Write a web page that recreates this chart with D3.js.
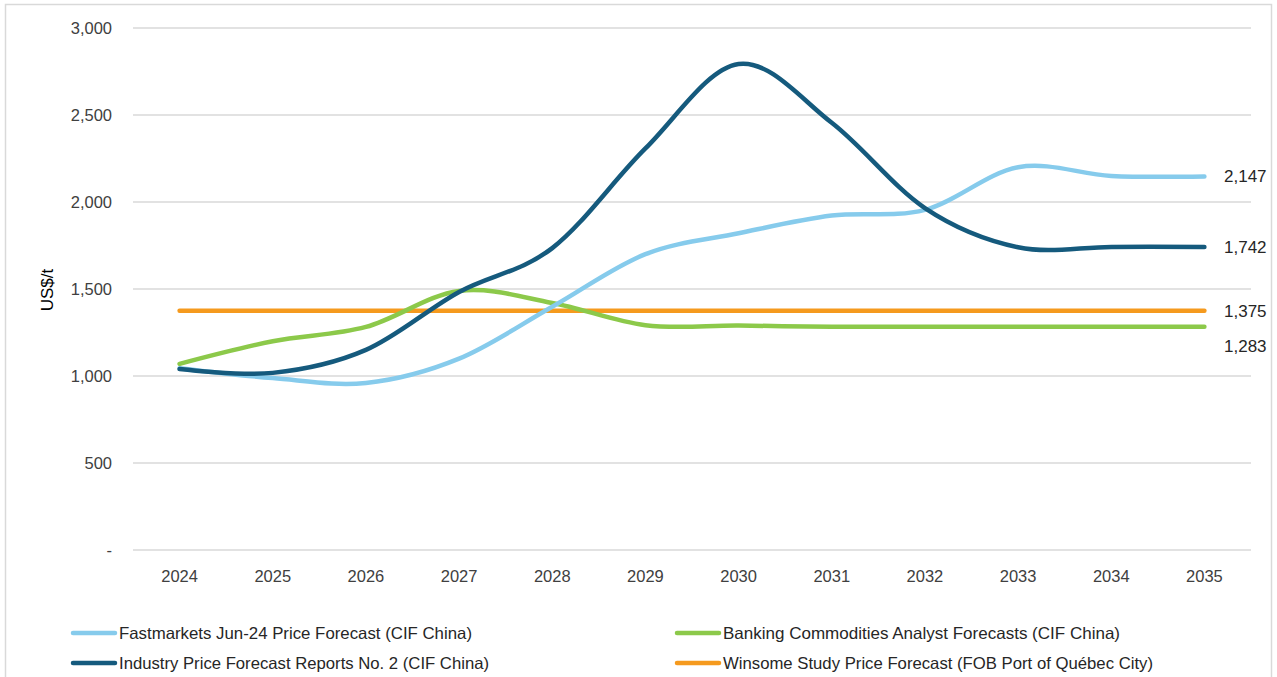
<!DOCTYPE html>
<html><head><meta charset="utf-8">
<script src="https://cdn.jsdelivr.net/npm/d3@7"></script>
<style>body{margin:0;background:#fff;} svg{display:block;font-family:"Liberation Sans",Arial,sans-serif;}</style>
</head><body><svg id="c" width="1277" height="677"></svg>
<script>
const years = ["2024","2025","2026","2027","2028","2029","2030","2031","2032","2033","2034","2035"];
const fastmarkets = [1045,988,960,1100,1398,1700,1820,1922,1955,2200,2150,2147];
const industry = [1040,1018,1150,1483,1735,2308,2793,2455,1965,1740,1742,1742];
const banking = [1070,1200,1282,1489,1420,1292,1290,1283,1283,1283,1283,1283];
const winsome = [1375,1375,1375,1375,1375,1375,1375,1375,1375,1375,1375,1375];
const yTicks = [0,500,1000,1500,2000,2500,3000];
const seriesNames = ["Fastmarkets Jun-24 Price Forecast (CIF China)","Banking Commodities Analyst Forecasts (CIF China)","Industry Price Forecast Reports No. 2 (CIF China)","Winsome Study Price Forecast (FOB Port of Québec City)"];
const colors = ["#86CBEC","#8CC94A","#155A7D","#F59A1E"];

const series = [
  {name:seriesNames[0], values:fastmarkets, color:colors[0], labelDy:0},
  {name:seriesNames[1], values:banking, color:colors[1], labelDy:19},
  {name:seriesNames[2], values:industry, color:colors[2], labelDy:0},
  {name:seriesNames[3], values:winsome, color:colors[3], labelDy:0}
];
const drawOrder = [3,1,0,2];

const svg = d3.select("#c");
svg.append("rect").attr("x",5.5).attr("y",4.5).attr("width",1266).attr("height",680)
  .attr("fill","#fff").attr("stroke","#d9d9d9").attr("stroke-width",1.5);

const x = d3.scaleBand().domain(years).range([133,1251]);
const y = d3.scaleLinear().domain([0,3000]).range([550,28]);
const fmt = d3.format(",");

// gridlines
svg.append("g").selectAll("line").data(yTicks).join("line")
  .attr("x1",133).attr("x2",1251).attr("y1",d=>y(d)).attr("y2",d=>y(d))
  .attr("stroke","#d9d9d9").attr("stroke-width",1.5);

// y tick labels
svg.append("g").selectAll("text").data(yTicks).join("text")
  .attr("x",112).attr("y",d=>y(d)).attr("dy","0.35em").attr("text-anchor","end")
  .attr("font-size",16.5).attr("fill","#404040").text(d=>d===0?"-":fmt(d));

// x labels
svg.append("g").selectAll("text").data(years).join("text")
  .attr("x",d=>x(d)+x.bandwidth()/2).attr("y",576).attr("dy","0.35em").attr("text-anchor","middle")
  .attr("font-size",16.5).attr("fill","#404040").text(d=>d);

// y title
svg.append("text").attr("transform","translate(47,290) rotate(-90)").attr("text-anchor","middle")
  .attr("dy","0.35em").attr("font-size",17).attr("fill","#000").text("US$/t");

const line = d3.line().x((d,i)=>x(years[i])+x.bandwidth()/2).y(d=>y(d)).curve(d3.curveCatmullRom.alpha(0));

drawOrder.forEach(k=>{
  const s = series[k];
  svg.append("path").datum(s.values).attr("d",line).attr("fill","none")
    .attr("stroke",s.color).attr("stroke-width",4.5).attr("stroke-linecap","round");
});

// end labels
series.forEach(s=>{
  const v = s.values[s.values.length-1];
  svg.append("text").attr("x",1224).attr("y",y(v)+s.labelDy).attr("dy","0.35em")
    .attr("font-size",17).attr("fill","#262626").text(fmt(v));
});

// legend
const legPos = [[73,633],[677,633],[73,663],[677,663]];
const legW = [353,397,370,430];
series.forEach((s,i)=>{
  const [lx,ly]=legPos[i];
  svg.append("line").attr("x1",lx).attr("x2",lx+42).attr("y1",ly).attr("y2",ly)
    .attr("stroke",s.color).attr("stroke-width",4.5).attr("stroke-linecap","round");
  svg.append("text").attr("x",lx+46).attr("y",ly).attr("dy","0.35em")
    .attr("font-size",16.5).attr("fill","#262626")
    .attr("textLength",legW[i]).attr("lengthAdjust","spacingAndGlyphs").text(s.name);
});
</script></body></html>
